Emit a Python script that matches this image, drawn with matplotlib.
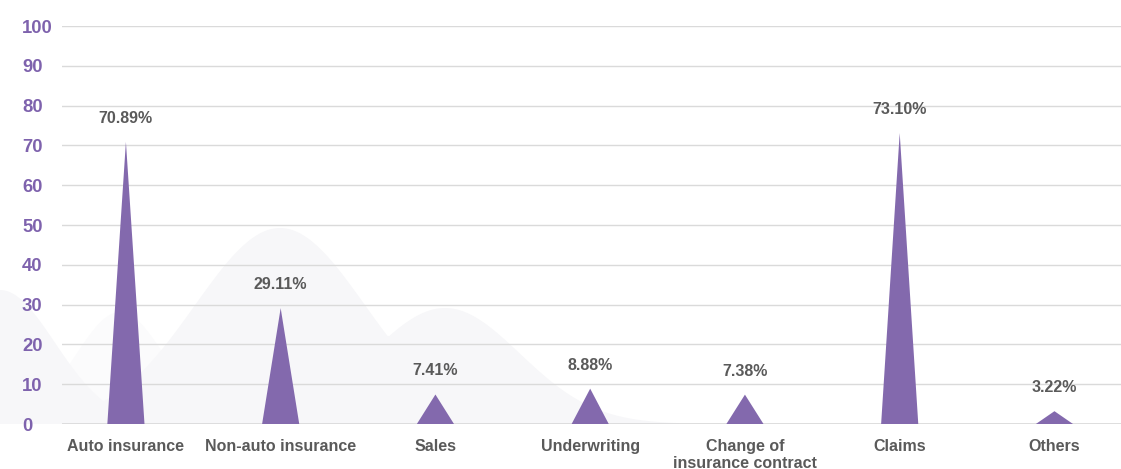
import numpy as np
import matplotlib
matplotlib.use("Agg")
import matplotlib.pyplot as plt

plt.rcParams["font.family"] = ["Liberation Sans", "DejaVu Sans"]

# data
categories = ["Auto insurance", "Non-auto insurance", "Sales", "Underwriting",
              "Change of\ninsurance contract", "Claims", "Others"]
values = [70.89, 29.11, 7.41, 8.88, 7.38, 73.10, 3.22]
value_labels = ["70.89%", "29.11%", "7.41%", "8.88%", "7.38%", "73.10%", "3.22%"]
y_ticks = [0, 10, 20, 30, 40, 50, 60, 70, 80, 90, 100]

purple = "#8369ad"
tick_purple = "#7e62ad"
text_gray = "#5a5a5a"
grid_gray = "#dadada"

W, H = 1121, 469
fig = plt.figure(figsize=(W / 100, H / 100), dpi=100)

# faint decorative waves in the background (pixel coordinates)
bg = fig.add_axes([0, 0, 1, 1], zorder=-1)
bg.set_xlim(0, W)
bg.set_ylim(H, 0)
bg.axis("off")
xs = np.linspace(0, W, 600)
def hump(c, h, s):
    return h * np.exp(-((xs - c) ** 2) / (2 * s ** 2))
wave = np.maximum.reduce([hump(280, 196, 85), hump(445, 116, 75), hump(0, 134, 55)])
wave_small = hump(120, 112, 45)
bg.fill_between(xs, 424, 424 - wave_small, color="#fbfbfc", lw=0)
bg.fill_between(xs, 424, 424 - wave, color="#f7f7f9", lw=0)

ax = fig.add_axes([62 / W, 1 - 424 / H, 1 - 62 / W, (424 - 26) / H])
ax.set_facecolor("none")

x = np.arange(len(categories))
half = 0.12
for xi, v, lab in zip(x, values, value_labels):
    ax.fill([xi - half, xi, xi + half], [0, v, 0], color=purple, lw=0, zorder=3)
    ax.annotate(lab, (xi, v), xytext=(0, 17), textcoords="offset points",
                ha="center", va="center", fontsize=11.5, fontweight="bold",
                color=text_gray, zorder=4)

ax.set_xlim(-0.413, 6.43)
ax.set_ylim(0, 100)
ax.set_yticks(y_ticks)
ax.set_yticklabels([str(t) for t in y_ticks])
ax.set_xticks(x)
ax.set_xticklabels(categories)
ax.yaxis.grid(True, color=grid_gray, lw=1)
ax.set_axisbelow(True)
for s in ax.spines.values():
    s.set_visible(False)
ax.axhline(0, color=grid_gray, lw=1.2, zorder=1)

ax.tick_params(axis="y", length=0, pad=28.8, labelsize=13.3, labelcolor=tick_purple)
for t in ax.get_yticklabels():
    t.set_ha("left")
    t.set_fontweight("bold")
ax.tick_params(axis="x", length=0, pad=11, labelsize=11.5, labelcolor=text_gray)
for t in ax.get_xticklabels():
    t.set_fontweight("bold")
    t.set_linespacing(1.15)

fig.savefig("out.png", dpi=100)
